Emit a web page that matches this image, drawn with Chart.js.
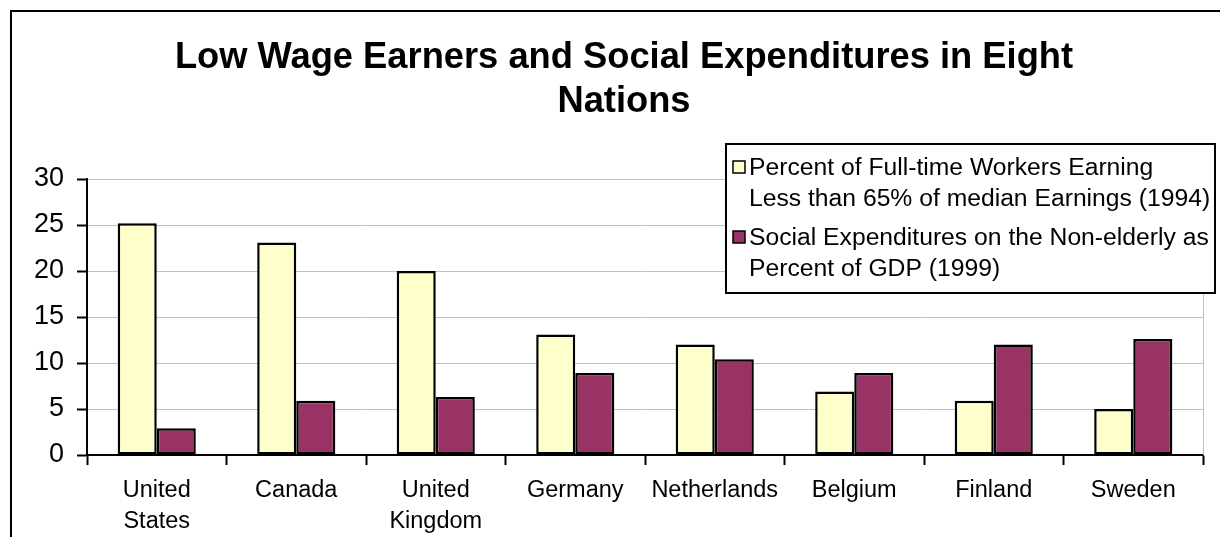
<!DOCTYPE html>
<html>
<head>
<meta charset="utf-8">
<title>Low Wage Earners and Social Expenditures in Eight Nations</title>
<script src="https://cdn.jsdelivr.net/npm/chart.js@4/dist/chart.umd.min.js"></script>
<style>
  html, body { margin: 0; padding: 0; background: #ffffff; }
  #wrap { width: 1220px; height: 537px; position: relative; }
  canvas { display: block; }
</style>
</head>
<body>
<div id="wrap"><canvas id="chart" width="1220" height="537"></canvas></div>
<script>
// Countries along the x axis (multi-line labels)
const countries = [
  ["United", "States"],
  ["Canada"],
  ["United", "Kingdom"],
  ["Germany"],
  ["Netherlands"],
  ["Belgium"],
  ["Finland"],
  ["Sweden"]
];

// Percent of full-time workers earning less than 65% of median earnings (1994)
const lowWageShare = [25.2, 23.1, 20.0, 13.1, 12.0, 6.9, 5.9, 5.0];

// Social expenditures on the non-elderly as percent of GDP (1999)
const socialSpending = [2.9, 5.9, 6.3, 8.9, 10.4, 8.9, 12.0, 12.6];

const seriesNames = [
  ["Percent of Full-time Workers Earning", "Less than 65% of median Earnings (1994)"],
  ["Social Expenditures on the Non-elderly as", "Percent of GDP (1999)"]
];

const titleLines = ["Low Wage Earners and Social Expenditures in Eight", "Nations"];

const yTicks = [0, 5, 10, 15, 20, 25, 30];

const FONT = '"Liberation Sans", Arial, sans-serif';

// Outer frame, title, plot border and the boxed legend
const decorations = {
  id: 'decorations',
  beforeDraw(chart) {
    const ctx = chart.ctx;
    ctx.save();
    ctx.fillStyle = '#ffffff';
    ctx.fillRect(0, 0, chart.width, chart.height);
    ctx.strokeStyle = '#000000';
    ctx.lineWidth = 2;
    ctx.beginPath();
    ctx.moveTo(11, chart.height + 2);
    ctx.lineTo(11, 11);
    ctx.lineTo(chart.width + 2, 11);
    ctx.stroke();
    ctx.restore();
  },
  afterDatasetsDraw(chart) {
    const ctx = chart.ctx;
    const a = chart.chartArea;
    ctx.save();
    // right edge of the plot area
    ctx.strokeStyle = '#c0c0c0';
    ctx.lineWidth = 1;
    ctx.beginPath();
    ctx.moveTo(Math.round(a.right) + 0.5, a.top);
    ctx.lineTo(Math.round(a.right) + 0.5, a.bottom);
    ctx.stroke();
    ctx.restore();
  },
  afterDraw(chart) {
    const ctx = chart.ctx;
    ctx.save();
    // title
    ctx.fillStyle = '#000000';
    ctx.textAlign = 'center';
    ctx.textBaseline = 'alphabetic';
    ctx.font = 'bold 36.3px ' + FONT;
    ctx.fillText(titleLines[0], 624, 68);
    ctx.fillText(titleLines[1], 624, 112);

    // legend box
    const lx = 726, ly = 144, lw = 489, lh = 149;
    ctx.fillStyle = '#ffffff';
    ctx.fillRect(lx, ly, lw, lh);
    ctx.strokeStyle = '#000000';
    ctx.lineWidth = 2;
    ctx.strokeRect(lx, ly, lw, lh);

    const rows = [175, 245];
    ctx.font = '24.7px ' + FONT;
    ctx.textAlign = 'left';
    chart.data.datasets.forEach((ds, i) => {
      const base = rows[i];
      ctx.fillStyle = ds.backgroundColor;
      ctx.fillRect(733, base - 14, 12, 12);
      ctx.strokeStyle = '#000000';
      ctx.lineWidth = 1.5;
      ctx.strokeRect(733, base - 14, 12, 12);
      ctx.fillStyle = '#000000';
      seriesNames[i].forEach((line, j) => {
        ctx.fillText(line, 749, base + j * 31);
      });
    });
    ctx.restore();
  }
};

new Chart(document.getElementById('chart'), {
  type: 'bar',
  data: {
    labels: countries,
    datasets: [
      {
        label: seriesNames[0].join(' '),
        data: lowWageShare,
        backgroundColor: '#ffffcc',
        borderColor: '#000000',
        borderWidth: 2.5,
        borderSkipped: false,
        inflateAmount: 0,
        categoryPercentage: 0.56,
        barPercentage: 1.0
      },
      {
        label: seriesNames[1].join(' '),
        data: socialSpending,
        backgroundColor: '#993366',
        borderColor: '#000000',
        borderWidth: 2.5,
        borderSkipped: false,
        inflateAmount: 0,
        categoryPercentage: 0.56,
        barPercentage: 1.0
      }
    ]
  },
  options: {
    responsive: false,
    animation: false,
    layout: { padding: { left: 0, right: 17, top: 179, bottom: 0 } },
    plugins: {
      legend: { display: false },
      title: { display: false },
      tooltip: { enabled: false }
    },
    scales: {
      x: {
        afterFit(scale) { scale.height = 82; },
        grid: {
          offset: true,
          drawOnChartArea: false,
          drawTicks: true,
          tickLength: 10,
          tickColor: '#000000',
          tickWidth: 2
        },
        border: { color: '#000000', width: 2 },
        ticks: {
          color: '#000000',
          font: { family: FONT, size: 23.5, lineHeight: 1.32 },
          padding: 10,
          maxRotation: 0,
          autoSkip: false
        }
      },
      y: {
        min: 0,
        max: 30,
        afterFit(scale) { scale.width = 87; },
        afterBuildTicks(scale) { scale.ticks = yTicks.map(v => ({ value: v })); },
        grid: {
          color: '#c0c0c0',
          lineWidth: 1,
          tickLength: 10,
          tickColor: '#000000',
          tickWidth: 2
        },
        border: { color: '#000000', width: 2 },
        ticks: {
          color: '#000000',
          font: { family: FONT, size: 27 },
          padding: 13
        }
      }
    }
  },
  plugins: [decorations]
});
</script>
</body>
</html>
